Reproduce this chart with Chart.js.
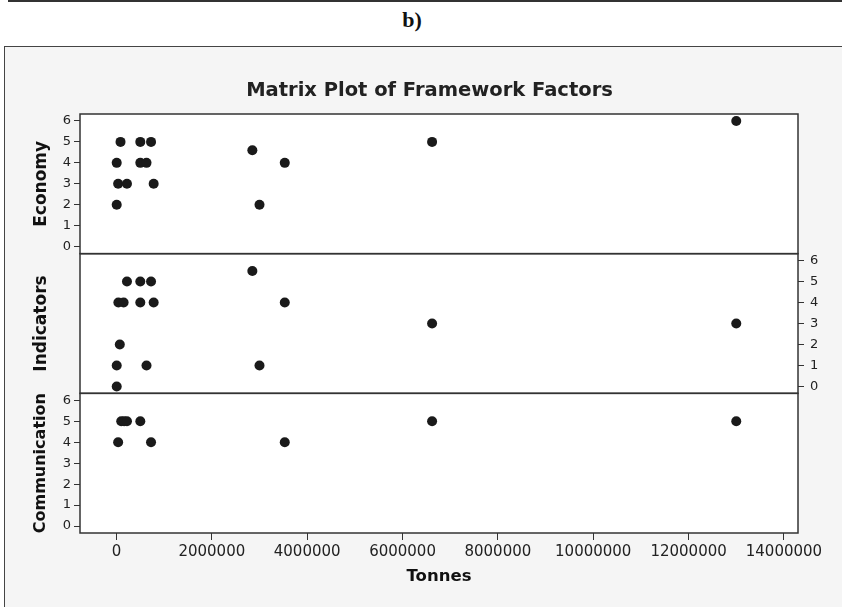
<!DOCTYPE html>
<html>
<head>
<meta charset="utf-8">
<script src="https://cdn.jsdelivr.net/npm/chart.js@4/dist/chart.umd.min.js"></script>
<style>
  body { margin: 0; width: 842px; height: 607px; position: relative; background: #fff; overflow: hidden; }
  #rule { position: absolute; left: 8px; top: 0; width: 834px; height: 1.5px; background: #333; }
  #label { position: absolute; left: 0; top: 9px; width: 824px; text-align: center;
           font: bold 22px/22px "Liberation Serif", serif; color: #111; }
  #frame { position: absolute; left: 4px; top: 46px; width: 860px; height: 600px;
           border: 1.5px solid #444; background: #f5f5f5; }
  #chart { position: absolute; left: 0; top: 0; }
</style>
</head>
<body>
<div id="rule"></div>
<div id="label">b)</div>
<div id="frame"></div>
<canvas id="chart" width="842" height="607"></canvas>
<script>
// values
const tonnesEconomy = [5000, 5000, 35000, 85000, 220000, 500000, 500000, 630000, 725000, 780000, 2850000, 3000000, 3530000, 6620000, 13000000];
const economy       = [2, 4, 3, 5, 3, 5, 4, 4, 5, 3, 4.6, 2, 4, 5, 6];

const tonnesIndicators = [2850000, 220000, 500000, 725000, 40000, 150000, 500000, 780000, 3530000, 70000, 5000, 630000, 3000000, 5000, 6620000, 13000000];
const indicators       = [5.5, 5, 5, 5, 4, 4, 4, 4, 4, 2, 1, 1, 1, 0, 3, 3];

const tonnesCommunication = [35000, 100000, 160000, 220000, 500000, 725000, 3530000, 6620000, 13000000];
const communication       = [4, 5, 5, 5, 5, 4, 4, 5, 5];

const panelNames = ['Economy', 'Indicators', 'Communication'];
const tonnesTicks = [0, 2000000, 4000000, 6000000, 8000000, 10000000, 12000000, 14000000];
const scoreTicks = [0, 1, 2, 3, 4, 5, 6];

const ink = '#1a1a1a';
const font = 'DejaVu Sans';

function points(xs, ys) {
    return xs.map((x, i) => ({ x: x, y: ys[i] }));
}

const tickGrid = { drawOnChartArea: false, drawTicks: true, tickLength: 6, color: '#333', lineWidth: 1 };

function leftAxis(title, showTicks, titleSize) {
    return {
        type: 'linear',
        position: 'left',
        stack: 'left',
        stackWeight: 1,
        min: -0.33,
        max: 6.33,
        border: { display: false },
        grid: showTicks ? tickGrid : { display: false },
        afterBuildTicks: s => { s.ticks = scoreTicks.map(v => ({ value: v })); },
        ticks: {
            display: showTicks,
            autoSkip: false,
            padding: 3,
            color: '#222',
            font: { family: font, size: 13 }
        },
        title: {
            display: true,
            text: title,
            color: '#111',
            padding: 0,
            font: { family: font, size: titleSize, weight: 'bold' }
        },
        afterFit: s => { s.width = 49; }
    };
}

function rightAxis(showTicks) {
    return {
        type: 'linear',
        position: 'right',
        stack: 'right',
        stackWeight: 1,
        min: -0.33,
        max: 6.33,
        border: { display: false },
        grid: showTicks ? tickGrid : { display: false },
        afterBuildTicks: s => { s.ticks = scoreTicks.map(v => ({ value: v })); },
        ticks: {
            display: showTicks,
            autoSkip: false,
            padding: 6,
            color: '#222',
            font: { family: font, size: 13 }
        },
        afterFit: s => { s.width = 30; }
    };
}

// white panels with dark frames
const panelFrames = {
    id: 'panelFrames',
    beforeDraw(chart) {
        const { ctx, chartArea } = chart;
        ctx.save();
        ctx.fillStyle = '#fff';
        ctx.fillRect(chartArea.left, chartArea.top, chartArea.right - chartArea.left, chartArea.bottom - chartArea.top);
        ctx.restore();
    },
    beforeDatasetsDraw(chart) {
        const { ctx, chartArea } = chart;
        ctx.save();
        ctx.strokeStyle = '#333';
        ctx.lineWidth = 1.5;
        ['yE', 'yI', 'yC'].forEach(id => {
            const s = chart.scales[id];
            ctx.strokeRect(chartArea.left, s.top, chartArea.right - chartArea.left, s.bottom - s.top);
        });
        ctx.restore();
    }
};

const dotStyle = { pointRadius: 5, pointHoverRadius: 5, pointBackgroundColor: ink, pointBorderWidth: 0, showLine: false };

new Chart(document.getElementById('chart'), {
    type: 'scatter',
    data: {
        datasets: [
            Object.assign({ label: panelNames[0], data: points(tonnesEconomy, economy), yAxisID: 'yE' }, dotStyle),
            Object.assign({ label: panelNames[1], data: points(tonnesIndicators, indicators), yAxisID: 'yI' }, dotStyle),
            Object.assign({ label: panelNames[2], data: points(tonnesCommunication, communication), yAxisID: 'yC' }, dotStyle)
        ]
    },
    options: {
        responsive: false,
        animation: false,
        events: [],
        layout: { padding: { left: 31, right: 14, top: 0, bottom: 0 } },
        plugins: {
            legend: { display: false },
            tooltip: { enabled: false },
            title: {
                display: true,
                text: 'Matrix Plot of Framework Factors',
                color: '#222',
                padding: { top: 79, bottom: 11.6 },
                font: { family: font, size: 19.5, weight: 'bold' }
            }
        },
        scales: {
            x: {
                type: 'linear',
                position: 'bottom',
                min: -765000,
                max: 14295000,
                border: { display: false },
                grid: { drawOnChartArea: false, drawTicks: true, tickLength: 7, color: '#333', lineWidth: 1 },
                afterBuildTicks: s => { s.ticks = tonnesTicks.map(v => ({ value: v })); },
                ticks: {
                    autoSkip: false,
                    maxRotation: 0,
                    padding: 3,
                    color: '#222',
                    font: { family: font, size: 15 },
                    callback: v => String(v)
                },
                title: {
                    display: true,
                    text: 'Tonnes',
                    color: '#111',
                    padding: { top: 0, bottom: 20 },
                    font: { family: font, size: 16.5, weight: 'bold' }
                },
                afterFit: s => { s.height = 74; }
            },
            yC: leftAxis(panelNames[2], true, 16),
            yI: leftAxis(panelNames[1], false, 17),
            yE: leftAxis(panelNames[0], true, 17),
            rE: rightAxis(false),
            rI: rightAxis(true),   // the middle panel shows its ticks on the right side
            rC: rightAxis(false)
        }
    },
    plugins: [panelFrames]
});
</script>
</body>
</html>
